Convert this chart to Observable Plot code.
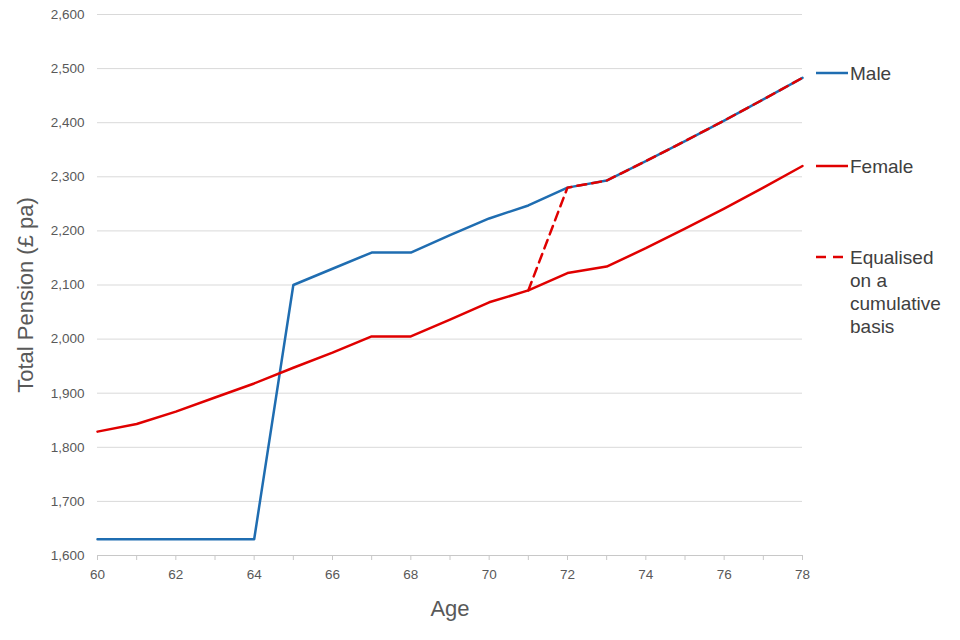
<!DOCTYPE html>
<html>
<head>
<meta charset="utf-8">
<script src="https://cdn.jsdelivr.net/npm/d3@7"></script>
<script src="https://cdn.jsdelivr.net/npm/@observablehq/plot@0.6"></script>
<style>
  html, body { margin: 0; padding: 0; background: #fff; }
  #wrap { position: relative; width: 960px; height: 640px; font-family: "Liberation Sans", Arial, sans-serif; }
  .leg { position: absolute; left: 814px; color: #404040; font-size: 19px; line-height: 23px; }
  .leg svg { position: absolute; left: 0; top: 7px; }
  .leg .tx { position: absolute; left: 36px; white-space: nowrap; }
</style>
</head>
<body>
<div id="wrap"></div>
<script>
const ages = [60,61,62,63,64,65,66,67,68,69,70,71,72,73,74,75,76,77,78];
const male = [1630,1630,1630,1630,1630,2100,2130,2160,2160,2192,2223,2247,2280,2293,2329,2366,2404,2443,2483];
const female = [1829,1843,1866,1892,1918,1947,1975,2005,2005,2036,2068,2090,2122,2134,2168,2204,2241,2280,2320];
const equalAges = [71,72,73,74,75,76,77,78];
const equalised = [2090,2280,2293,2329,2366,2404,2443,2483];
const xTickLabels = [60,62,64,66,68,70,72,74,76,78];
const yTicks = [1600,1700,1800,1900,2000,2100,2200,2300,2400,2500,2600];
const seriesNames = ["Male", "Female", "Equalised\non a\ncumulative\nbasis"];
const colors = {male: "#1f6db1", female: "#e00000"};

const maleData = ages.map((a, i) => ({age: a, v: male[i]}));
const femaleData = ages.map((a, i) => ({age: a, v: female[i]}));
const eqData = equalAges.map((a, i) => ({age: a, v: equalised[i]}));

const chart = Plot.plot({
  width: 960,
  height: 640,
  marginLeft: 97,
  marginRight: 158,
  marginTop: 14,
  marginBottom: 85,
  style: {fontFamily: "Liberation Sans, Arial, sans-serif", fontSize: "13px", color: "#595959", background: "#fff"},
  x: {domain: [60, 78]},
  y: {domain: [1600, 2600]},
  marks: [
    Plot.ruleY(yTicks.slice(1), {stroke: "#d9d9d9", strokeWidth: 1}),
    Plot.ruleY([1600], {stroke: "#c8c8c8", strokeWidth: 1}),
    Plot.axisY({ticks: yTicks, tickSize: 0, tickPadding: 13, tickFormat: d3.format(","), fontSize: 13.5, fill: "#595959",
      label: "Total Pension (£ pa)", labelAnchor: "center", labelArrow: "none", labelOffset: 80}),
    Plot.axisX({ticks: ages, tickSize: 5, stroke: "#c8c8c8", tickFormat: () => "", label: null}),
    Plot.axisX({ticks: xTickLabels, tickSize: 0, tickPadding: 14, fontSize: 13.5, fill: "#595959",
      label: "Age", labelAnchor: "center", labelArrow: "none", labelOffset: 60}),
    Plot.line(maleData, {x: "age", y: "v", stroke: colors.male, strokeWidth: 2.5}),
    Plot.line(femaleData, {x: "age", y: "v", stroke: colors.female, strokeWidth: 2.5}),
    Plot.line(eqData, {x: "age", y: "v", stroke: colors.female, strokeWidth: 2.5, strokeDasharray: "9,6"})
  ]
});

chart.querySelectorAll('[aria-label="y-axis label"] text, [aria-label="x-axis label"] text').forEach(t => {
  t.setAttribute("font-size", "22");
  t.style.fontSize = "22px";
  t.setAttribute("fill", "#595959");
});
chart.querySelectorAll('[aria-label="y-axis label"] text').forEach(t => {
  const tr = t.getAttribute("transform") || "";
  t.setAttribute("transform", "translate(0,10) " + tr);
});

const wrap = document.getElementById("wrap");
wrap.appendChild(chart);
chart.style.position = "absolute";
chart.style.left = "0";
chart.style.top = "0";

const legendItems = [
  {name: seriesNames[0], color: colors.male, dash: false, top: 62},
  {name: seriesNames[1], color: colors.female, dash: false, top: 155},
  {name: seriesNames[2], color: colors.female, dash: true, top: 246}
];
const ns = "http://www.w3.org/2000/svg";
legendItems.forEach(it => {
  const d = document.createElement("div");
  d.className = "leg";
  d.style.top = it.top + "px";
  const sw = document.createElementNS(ns, "svg");
  sw.setAttribute("width", "36");
  sw.setAttribute("height", "8");
  const ln = document.createElementNS(ns, "line");
  ln.setAttribute("x1", "2"); ln.setAttribute("x2", "34");
  ln.setAttribute("y1", "4"); ln.setAttribute("y2", "4");
  ln.setAttribute("stroke", it.color);
  ln.setAttribute("stroke-width", "2.5");
  if (it.dash) ln.setAttribute("stroke-dasharray", "10,7");
  sw.appendChild(ln);
  const tx = document.createElement("div");
  tx.className = "tx";
  tx.innerHTML = it.name.split("\n").join("<br>");
  d.appendChild(sw);
  d.appendChild(tx);
  wrap.appendChild(d);
});
</script>
</body>
</html>
